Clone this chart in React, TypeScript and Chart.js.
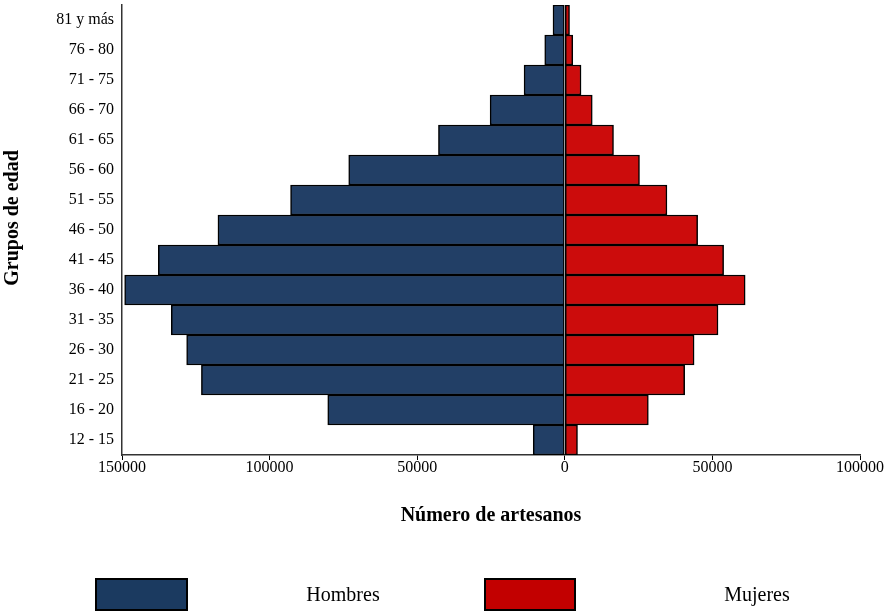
import React, { useEffect, useRef } from "react";
import { Chart, registerables } from "chart.js";

Chart.register(...registerables);

const ageGroups = [
  "81 y más", "76 - 80", "71 - 75", "66 - 70", "61 - 65", "56 - 60", "51 - 55",
  "46 - 50", "41 - 45", "36 - 40", "31 - 35", "26 - 30", "21 - 25", "16 - 20", "12 - 15",
];
const hombres = [4000, 6800, 13800, 25300, 42800, 73200, 92900, 117500, 137700, 149100, 133300, 128100, 123100, 80300, 10700];
const mujeres = [1600, 2700, 5500, 9300, 16500, 25300, 34600, 45000, 53800, 61100, 51900, 43800, 40600, 28300, 4300];
const seriesNames = ["Hombres", "Mujeres"];
const xTitle = "Número de artesanos";
const yTitle = "Grupos de edad";
const xMin = -150000;
const xMax = 100000;
const xStep = 50000;

const FONT = "'Liberation Serif', 'Times New Roman', serif";
const BLUE = "#223f66";
const RED = "#cc0c0c";
const LEGEND_BLUE = "#1b3a60";
const LEGEND_RED = "#c20000";

const legendPlugin = {
  id: "customLegend",
  afterDraw(chart: any) {
    const ctx = chart.ctx;
    ctx.save();
    const items = [
      { box: [96, 579, 91, 31], color: LEGEND_BLUE, text: seriesNames[0], tx: 343 },
      { box: [485, 579, 90, 31], color: LEGEND_RED, text: seriesNames[1], tx: 757 },
    ];
    for (const it of items) {
      const [x, y, w, h] = it.box;
      ctx.fillStyle = it.color;
      ctx.fillRect(x, y, w, h);
      ctx.lineWidth = 2;
      ctx.strokeStyle = "#000";
      ctx.strokeRect(x, y, w, h);
      ctx.fillStyle = "#000";
      ctx.font = `20px ${FONT}`;
      ctx.textAlign = "center";
      ctx.textBaseline = "middle";
      ctx.fillText(it.text, it.tx, 596);
    }
    // y-axis title
    ctx.translate(13, 218);
    ctx.rotate(-Math.PI / 2);
    ctx.font = `bold 20px ${FONT}`;
    ctx.textAlign = "center";
    ctx.textBaseline = "middle";
    ctx.fillStyle = "#000";
    ctx.fillText(yTitle, 0, 0);
    ctx.restore();
  },
};

export default function App() {
  const ref = useRef<HTMLCanvasElement | null>(null);
  useEffect(() => {
    if (!ref.current) return;
    Chart.defaults.font.family = FONT;
    Chart.defaults.color = "#000";
    const chart = new Chart(ref.current, {
      type: "bar",
      data: {
        labels: ageGroups,
        datasets: [
          {
            label: seriesNames[0],
            data: hombres.map((v) => -v),
            backgroundColor: BLUE,
            borderColor: "#000",
            borderWidth: 1.5,
            borderSkipped: false,
            categoryPercentage: 1,
            barPercentage: 1,
          },
          {
            label: seriesNames[1],
            data: mujeres,
            backgroundColor: RED,
            borderColor: "#000",
            borderWidth: 1.5,
            borderSkipped: false,
            categoryPercentage: 1,
            barPercentage: 1,
          },
        ],
      },
      options: {
        indexAxis: "y",
        responsive: false,
        animation: false,
        layout: { padding: { top: 5, bottom: 48, left: 0, right: 0 } },
        plugins: {
          legend: { display: false },
          tooltip: { enabled: false },
        },
        scales: {
          x: {
            stacked: true,
            min: xMin,
            max: xMax,
            ticks: {
              stepSize: xStep,
              padding: 0,
              maxRotation: 0,
              font: { size: 16, lineHeight: 1 },
              color: "#000",
              callback: (v: any) => String(Math.abs(Number(v))),
            },
            grid: { drawOnChartArea: false, drawTicks: true, tickLength: 5, color: "#000" },
            border: { display: true, color: "#333", width: 1.5 },
            title: {
              display: true,
              text: xTitle,
              font: { size: 20, weight: "bold" },
              color: "#000",
              padding: { top: 0, bottom: 37 },
            },
            afterFit: (s: any) => {
              s.height = 110;
            },
          },
          y: {
            stacked: true,
            ticks: { padding: 8, font: { size: 16 }, color: "#000" },
            grid: { display: false, drawTicks: false },
            border: { display: true, color: "#333", width: 1.5 },
            title: { display: false },
            afterFit: (s: any) => {
              s.width = 122;
              s.paddingTop = 0;
              s.paddingBottom = 0;
            },
          },
        },
      },
      plugins: [legendPlugin],
    } as any);
    return () => chart.destroy();
  }, []);
  return (
    <div style={{ position: "absolute", left: 0, top: 0, width: 884, height: 613 }}>
      <canvas ref={ref} width={884} height={613} style={{ display: "block" }} />
    </div>
  );
}
